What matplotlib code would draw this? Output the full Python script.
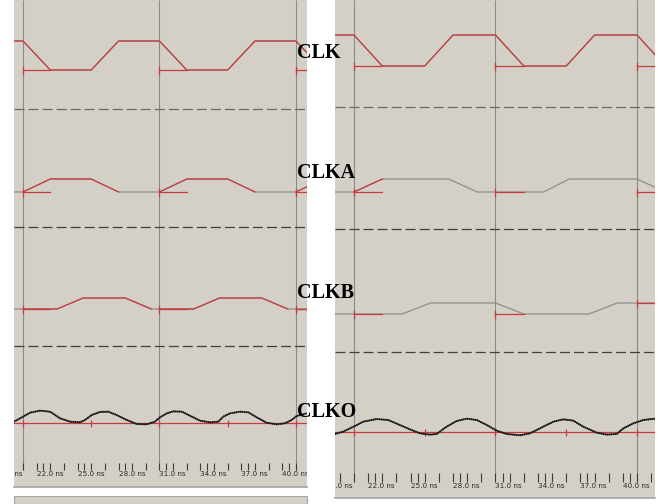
import matplotlib
matplotlib.use("Agg")
import matplotlib.pyplot as plt
import numpy as np
from matplotlib.patches import Rectangle

# time axis (ns)
edge_times = [21, 31, 41]
label_times = [19, 22, 25, 28, 31, 34, 37, 40]
clko_mark_times = [21, 26, 31, 36, 41]

# run 1 (left window), levels in volts
clk_t = [19, 21, 23, 26, 28, 31, 33, 36, 38, 41, 43]
clk_v = [3.3, 3.3, 0, 0, 3.3, 3.3, 0, 0, 3.3, 3.3, 0]
clka1_t = [19, 21, 23, 26, 28, 31, 33, 36, 38, 41, 43]
clka1_v = [0, 0, 1.48, 1.48, 0, 0, 1.48, 1.48, 0, 0, 1.48]
clkb1_t = [19, 23.5, 25.4, 28.5, 30.4, 33.5, 35.4, 38.5, 40.4, 43]
clkb1_v = [0, 0, 1.25, 1.25, 0, 0, 1.25, 1.25, 0, 0]
clko1_t = [20.34, 21.0, 21.51, 22.25, 22.98, 23.71, 24.44, 25.18, 25.54, 26.03,
           26.64, 27.25, 27.86, 28.6, 29.33, 30.06, 30.67, 31.04, 31.53, 32.01,
           32.63, 33.23, 33.97, 34.7, 35.31, 35.67, 36.16, 36.9, 37.5, 38.12,
           38.85, 39.59, 40.19, 40.68, 41.05, 41.78]
clko1_v = [0.19, 0.75, 1.21, 1.44, 1.32, 0.57, 0.19, 0.11, 0.38, 0.94,
           1.29, 1.32, 0.94, 0.38, -0.08, -0.12, 0.19, 0.68, 1.13, 1.36,
           1.32, 0.87, 0.30, 0.11, 0.19, 0.75, 1.13, 1.32, 1.25, 0.68,
           0.07, -0.12, 0.0, 0.38, 0.83, 1.13]

# run 2 (right window)
clka2_t = [19, 21, 23, 27.7, 29.7, 34.4, 36.2, 41, 43]
clka2_v = [0, 0, 1.38, 1.38, 0, 0, 1.38, 1.38, 0]
clkb2_t = [19, 24.4, 26.4, 31, 33, 37.6, 39.6, 43]
clkb2_v = [0, 0, 1.17, 1.17, 0, 0, 1.17, 1.17]
clko2_t = [19.66, 20.24, 21.07, 21.66, 22.6, 23.42, 24.13, 24.96, 25.66, 26.37,
           26.84, 27.55, 28.26, 28.96, 29.67, 30.38, 31.08, 31.79, 32.73, 33.44,
           34.38, 35.09, 35.79, 36.5, 37.2, 38.15, 38.86, 39.57, 40.03, 40.74,
           41.45, 42.27]
clko2_v = [-0.21, 0.04, 0.64, 1.10, 1.38, 1.28, 0.82, 0.28, -0.14, -0.28,
           -0.21, 0.57, 1.17, 1.42, 1.28, 0.75, 0.14, -0.21, -0.35, -0.14,
           0.57, 1.10, 1.35, 1.21, 0.57, -0.07, -0.28, -0.21, 0.39, 0.92,
           1.28, 1.42]

W, H = 658, 504
BG = "#d4d0c8"
RED = "#c83c3c"
GRAY = "#8e8e8e"
GRID = "#8a8a8a"
TICK_FONT = ["Liberation Sans Narrow", "DejaVu Sans"]

plt.rcParams["lines.scale_dashes"] = False

panels = [
    dict(box=(14, 0, 307, 487), xlim=(20.34, 41.81), vscale=8.79,
         dashes=[(109, "#6a6a6a"), (227, "#404040"), (346, "#404040")],
         tick_y=(463, 470), label_y=471.5,
         rows=[
             dict(t=clk_t, v=clk_v, base=70, red=[(19, 43)], marks=[0, 0, 0]),
             dict(t=clka1_t, v=clka1_v, base=192,
                  red=[(21, 28), (31, 38), (41, 43)], marks=[0, 0, 0]),
             dict(t=clkb1_t, v=clkb1_v, base=309,
                  red=[(21, 30.4), (31, 40.4), (41, 43)], marks=[0, 0, 0]),
         ],
         clko=(clko1_t, clko1_v, 423.3)),
    dict(box=(335, 0, 655, 498), xlim=(19.66, 42.27), vscale=9.39,
         dashes=[(107, "#6a6a6a"), (229, "#404040"), (352, "#404040")],
         tick_y=(473, 482), label_y=482.5,
         rows=[
             dict(t=clk_t, v=clk_v, base=66, red=[(19, 43)], marks=[0, 0, 0]),
             dict(t=clka2_t, v=clka2_v, base=192, red=[(21, 23)],
                  marks=[0, 0, 0]),
             dict(t=clkb2_t, v=clkb2_v, base=314, red=[],
                  marks=[0, 0, 1.17]),
         ],
         clko=(clko2_t, clko2_v, 432)),
]


def px_axes(fig, x0, y0, x1, y1):
    return fig.add_axes([x0 / W, 1 - y1 / H, (x1 - x0) / W, (y1 - y0) / H])


def clip_trace(t, v, t0, t1):
    t = np.asarray(t, float)
    v = np.asarray(v, float)
    inside = (t > t0) & (t < t1)
    ts = np.concatenate([[t0], t[inside], [t1]])
    return ts, np.interp(ts, t, v)


fig = plt.figure(figsize=(W / 100, H / 100), dpi=100, facecolor="white")

for p in panels:
    x0, y0, x1, y1 = p["box"]
    ax = px_axes(fig, x0, y0, x1, y1)
    ax.set_facecolor(BG)
    ax.set_xlim(*p["xlim"])
    ax.set_ylim(y1 - y0, 0)
    for side in ("top", "left", "right"):
        ax.spines[side].set_visible(False)
    ax.spines["bottom"].set_color("#a4a4a4")
    ax.spines["bottom"].set_linewidth(1.2)
    ax.set_xticks([])
    ax.set_yticks([])
    s = p["vscale"]

    # cursor lines at the clock edges
    ax.vlines(edge_times, 0, p["tick_y"][1], color=GRID, lw=0.8, zorder=1)

    # row separators
    for yd, col in p["dashes"]:
        ax.axhline(yd, color=col, lw=0.9, dashes=(7.2, 2.9), zorder=1)

    for row in p["rows"]:
        t = np.asarray(row["t"], float)
        y = row["base"] - np.asarray(row["v"], float) * s
        ax.plot(t, y, color=GRAY, lw=0.9, zorder=2)
        for a, b in row["red"]:
            ts, vs = clip_trace(row["t"], row["v"], a, b)
            ax.plot(ts, row["base"] - vs * s, color=RED, lw=0.9, zorder=3)
        for te, lvl in zip(edge_times, row["marks"]):
            ym = row["base"] - lvl * s
            ax.plot([te, te + 2], [ym, ym], color=RED, lw=0.9, zorder=3)
            ax.plot([te, te], [ym - 3.5, ym + 3.5], color=RED, lw=0.9, zorder=3)

    # CLKO analog trace on a red reference line
    ct, cv, cb = p["clko"]
    ax.axhline(cb, color=RED, lw=0.9, zorder=2)
    ax.vlines(clko_mark_times, cb - 3.5, cb + 3.5, color=RED, lw=0.9, zorder=2)
    ax.plot(ct, cb - np.asarray(cv) * s, color="#333333", lw=1.0, zorder=4)
    ax.plot(ct, cb - np.asarray(cv) * s, color="#111111", lw=1.4,
            dashes=(0.8, 0.6), zorder=4)

    # time ruler
    minor = [float(v) for v in range(18, 44)] + [v + 0.5 for v in label_times]
    ax.vlines(minor, *p["tick_y"], color="#3c3c3c", lw=0.8, zorder=2)
    for lt in label_times:
        ax.text(lt, p["label_y"], f"{lt:.1f} ns", ha="left", va="top",
                fontsize=5.2, family=TICK_FONT, color="#2a2a2a",
                clip_on=True, zorder=5)

# strip under the left window
fig.patches.append(Rectangle((14 / W, 0), (307 - 14) / W, 8 / H,
                             transform=fig.transFigure, facecolor=BG,
                             edgecolor="#a4a4a4", lw=0.8))

signal_names = ["CLK", "CLKA", "CLKB", "CLKO"]
name_y = [53, 173, 293, 412]
for name, yy in zip(signal_names, name_y):
    fig.text(297 / W, 1 - yy / H, name, ha="left", va="center",
             fontsize=14.5, fontweight="bold", family="Liberation Serif",
             color="black", zorder=10)

fig.savefig("out.png", dpi=100, facecolor="white")
